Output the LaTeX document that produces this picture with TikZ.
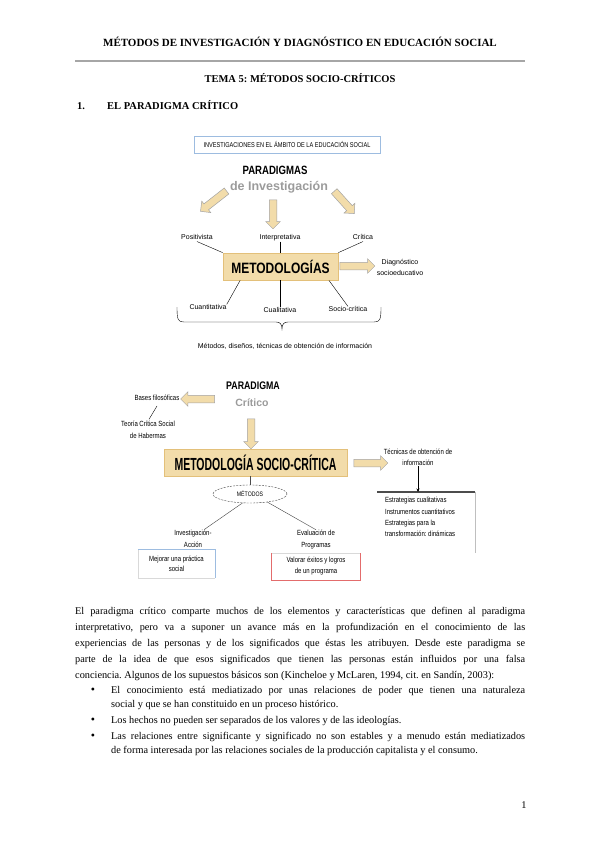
\documentclass[tikz,border=0pt]{standalone}
\usepackage{fontspec}
\setmainfont{Liberation Serif}
\newfontfamily\dsans{Liberation Sans}
\newfontfamily\dnarrow[FakeStretch=0.8]{Liberation Sans}
\newfontfamily\dcond[FakeStretch=0.6]{Liberation Sans}
\usetikzlibrary{shapes.arrows,shapes.geometric,arrows.meta,calc}
\definecolor{parch}{HTML}{F2DCAA}
\definecolor{parchedge}{HTML}{E3C07A}
\definecolor{arrgray}{HTML}{A3A3A3}
\definecolor{softgray}{HTML}{9B9B9B}
\definecolor{boxblue}{HTML}{9DBCE0}
\definecolor{boxred}{HTML}{E36C6C}
\definecolor{rulegray}{HTML}{A6A6A6}
\frenchspacing

\begin{document}
\begin{tikzpicture}[x=1pt,y=-1pt,
  hd/.style={font=\bfseries\fontsize{11}{13}\selectfont,inner sep=0pt,anchor=base},
  lbl/.style={font=\dsans\fontsize{7}{10.5}\selectfont,inner sep=0pt,align=center},
  lbltwo/.style={font=\dnarrow\fontsize{7.5}{12}\selectfont,inner sep=0pt,align=center},
  oneline/.style={text height=5.2pt,text depth=1.5pt},
  fatarrow/.style={single arrow,draw=arrgray,fill=parch,line width=0.5pt,inner sep=0pt,
    minimum width=14pt,single arrow head extend=3.5pt,single arrow head indent=0pt},
  bigbox/.style={draw=parchedge,fill=parch,line width=0.8pt,inner sep=0pt},
  body/.style={font=\fontsize{10.3}{16}\selectfont,inner sep=0pt,align=justify,anchor=north west}]
\useasboundingbox (0,0) rectangle (600,848);
%
\node[hd] (hdr) at (300,46.5) {MÉTODOS DE INVESTIGACIÓN Y DIAGNÓSTICO EN EDUCACIÓN SOCIAL};
\draw[rulegray, line width=1.2pt] (75,61) -- (525,61);
\node[hd, font=\bfseries\fontsize{10.5}{13}\selectfont] (tema) at (300,82.5) {TEMA 5: MÉTODOS SOCIO-CRÍTICOS};
\node[hd, font=\bfseries\fontsize{10.5}{13}\selectfont] (num) at (81,109.5) {1.};
\node[hd, font=\bfseries\fontsize{10.5}{13}\selectfont, anchor=base west] (secc) at (107,109.5) {EL PARADIGMA CRÍTICO};
%
% first diagram
\node[draw=boxblue, line width=0.8pt, minimum width=186pt, minimum height=17pt, inner sep=0pt,
  font=\dnarrow\fontsize{7}{8}\selectfont] (invbox) at (287,144.5) {INVESTIGACIONES EN EL ÁMBITO DE LA EDUCACIÓN SOCIAL};
\node[font=\dnarrow\bfseries\fontsize{12}{14}\selectfont, inner sep=0pt] (parad) at (275,170) {PARADIGMAS};
\node[font=\dsans\bfseries\fontsize{12.5}{14}\selectfont, text=softgray, inner sep=0pt] (deinv) at (279,187) {de Investigación};
\node[fatarrow, minimum height=33pt, rotate=-142] (arrpos) at (215,200) {\rule{0pt}{7pt}};
\node[fatarrow, minimum height=29pt, rotate=-90] (arrint) at (273,212.5) {\rule{0pt}{7pt}};
\node[fatarrow, minimum height=30pt, rotate=-48] (arrcri) at (343,201) {\rule{0pt}{7pt}};
%
\node[lbl, oneline] (posit) at (197,238) {Positivista};
\node[lbl, oneline] (interp) at (280,238) {Interpretativa};
\node[lbl, oneline] (critica) at (363,238) {Crítica};
\node[bigbox, minimum width=115pt, minimum height=27pt, font=\dnarrow\bfseries\fontsize{15}{17}\selectfont] (metod) at (280.5,266.5) {METODOLOGÍAS};
\node[fatarrow, minimum height=35pt] (arrdiag) at (355.5,266) {\rule{0pt}{7pt}};
\node[lbl] (diag) at (400,267.5) {Diagnóstico\\socioeducativo};
\node[lbl, oneline] (cuant) at (208,308) {Cuantitativa};
\node[lbl, oneline] (cual) at (280,311) {Cualitativa};
\node[lbl, oneline] (socio) at (348,310) {Socio-crítica};
%
\draw (posit.south) -- (metod.north west);
\draw (interp.south -| metod.north) -- (metod.north);
\draw (critica.south) -- (metod.north east);
\draw (metod.-161) -- (cuant.north east);
\draw (metod.south) -- (metod.south |- cual.north);
\draw (metod.-16) -- (socio.north);
%
\coordinate (brL) at (177,307);
\coordinate (brR) at (381,307);
\coordinate (brtip) at (282,329);
\draw (brL) .. controls (177,320) and (178,322) .. (184,322) -- (276,322)
  .. controls (280,322) and (282,324) .. (brtip)
  .. controls (282,324) and (284,322) .. (288,322) -- (374,322)
  .. controls (380,322) and (381,320) .. (brR);
\node[lbl, oneline] (metodos) at (285,347) {Métodos, diseños, técnicas de obtención de información};
%
% second diagram
\node[font=\dnarrow\bfseries\fontsize{11}{13}\selectfont, inner sep=0pt] (parad2) at (253,386) {PARADIGMA};
\node[font=\dsans\bfseries\fontsize{10.5}{12}\selectfont, text=softgray, inner sep=0pt] (crit2) at (252,403) {Crítico};
\node[fatarrow, minimum height=34pt, rotate=180] (arrbas) at (199.5,399) {\rule{0pt}{7pt}};
\node[lbltwo, oneline] (bases) at (157,399) {Bases filosóficas};
\node[lbltwo] (teoria) at (148,430) {Teoría Crítica Social\\de Habermas};
\draw[shorten <=2pt, shorten >=4pt] (teoria.north) -- (bases.-60);
\node[fatarrow, minimum height=30pt, rotate=-90] (arrmet) at (251,432) {\rule{0pt}{7pt}};
\node[bigbox, minimum width=183pt, minimum height=27pt, font=\dcond\bfseries\fontsize{17.5}{19}\selectfont] (metsoc) at (255.5,462.5) {METODOLOGÍA SOCIO-CRÍTICA};
\node[fatarrow, minimum height=34pt] (arrtec) at (369,463) {\rule{0pt}{7pt}};
\node[lbltwo, font=\dnarrow\fontsize{7.5}{11}\selectfont] (tecn) at (418,457.5) {Técnicas de obtención de\\información};
%
\coordinate (estrTL) at (377,492);
\coordinate (estrTR) at (475,492);
\coordinate (estrBR) at (475,553);
\draw[black!70, line width=1.2pt] (estrTL) -- (estrTR);
\draw[black!25] (estrTR) -- (estrBR);
\draw[-{Stealth[length=3.5pt,width=3pt]}] (tecn.south) -- (tecn.south |- estrTL);
\node[lbltwo, font=\dnarrow\fontsize{7.5}{11.3}\selectfont, align=left, anchor=north west] (estr) at (385,494.6)
  {\strut Estrategias cualitativas\\Instrumentos cuantitativos\\Estrategias para la\\transformación: dinámicas};
%
\node[ellipse, draw=black!75, dash pattern=on 2pt off 1.2pt, minimum width=74pt, minimum height=18pt, inner sep=0pt,
  font=\dnarrow\fontsize{6.5}{8}\selectfont] (mets) at (250,494) {MÉTODOS};
\draw[black!70] (mets.north |- metsoc.south) -- (mets.north);
\node[lbltwo] (invac) at (193,538.5) {Investigación-\\Acción};
\node[lbltwo] (evalp) at (316,539.5) {Evaluación de\\Programas};
\draw[black!75] (mets.-130) -- ($(invac.north)!0.6!(invac.north east)$);
\draw[black!75] (mets.-25) -- (evalp.north);
%
\node[lbltwo, font=\dnarrow\fontsize{7.5}{10}\selectfont, minimum width=77pt, minimum height=28pt] (mejor) at (176.5,564) {Mejorar una práctica\\social};
\draw[black!15] (mejor.north west) -- (mejor.south west) -- (mejor.south east);
\draw[boxblue, line width=0.8pt] (mejor.north west) -- (mejor.north east) -- (mejor.south east);
\node[lbltwo, font=\dnarrow\fontsize{7.5}{11}\selectfont, minimum width=88pt, minimum height=27pt] (valor) at (316,566.5) {Valorar éxitos y logros\\de un programa};
\draw[black!15] (valor.north west) -- (valor.north east);
\draw[boxred, line width=0.8pt] (valor.north west) -- (valor.south west) -- (valor.south east) -- (valor.north east);
%
% text
\node[body, text width=450pt] (parrafo) at (75,603.3) {\parfillskip=0pt\strut El paradigma crítico comparte muchos de los elementos y características que definen al paradigma\linebreak
interpretativo, pero va a suponer un avance más en la profundización en el conocimiento de las\linebreak
experiencias de las personas y de los significados que éstas les atribuyen. Desde este paradigma se\linebreak
parte de la idea de que esos significados que tienen las personas están influidos por una falsa\linebreak
conciencia. Algunos de los supuestos básicos son (Kincheloe y McLaren, 1994, cit. en Sandín, 2003):};
%
\node[hd, font=\fontsize{12}{14.5}\selectfont] (b1) at (93,693.5) {\textbullet};
\node[hd, font=\fontsize{12}{14.5}\selectfont] (b2) at (93,723.5) {\textbullet};
\node[hd, font=\fontsize{12}{14.5}\selectfont] (b3) at (93,739.5) {\textbullet};
\node[body, font=\fontsize{10.3}{14.5}\selectfont, text width=414pt] (item1) at (111,682.85) {\strut El conocimiento está mediatizado por unas relaciones de poder que tienen una naturaleza\linebreak
social y que se han constituido en un proceso histórico.};
\node[body, font=\fontsize{10.3}{14.5}\selectfont, text width=414pt] (item2) at (111,712.85) {\strut Los hechos no pueden ser separados de los valores y de las ideologías.};
\node[body, font=\fontsize{10.3}{14.5}\selectfont, text width=414pt] (item3) at (111,728.85) {\strut Las relaciones entre significante y significado no son estables y a menudo están mediatizados\linebreak
de forma interesada por las relaciones sociales de la producción capitalista y el consumo.};
%
\node[hd, font=\fontsize{10.3}{13}\selectfont] (pag) at (524,808) {1};
\end{tikzpicture}
\end{document}
